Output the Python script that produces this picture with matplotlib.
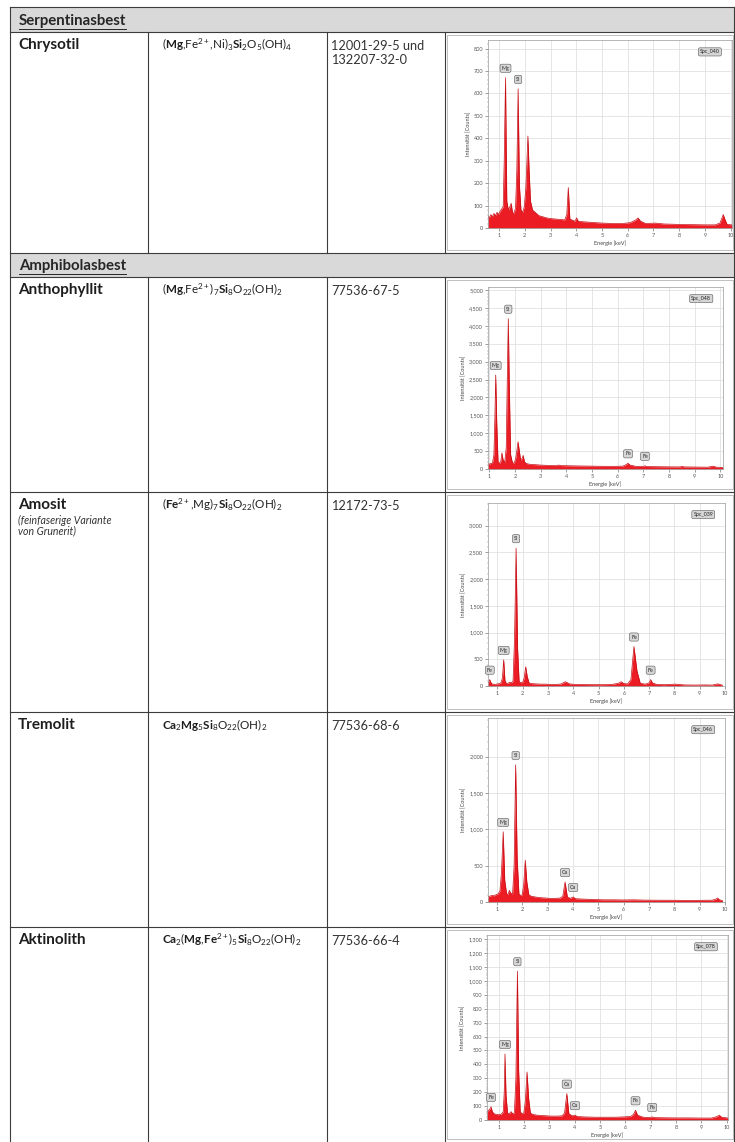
import numpy as np
import matplotlib.pyplot as plt
from matplotlib.patches import Rectangle
from matplotlib.ticker import MultipleLocator

plt.rcParams['font.family'] = ['Lato', 'DejaVu Sans']
plt.rcParams['mathtext.fontset'] = 'custom'
plt.rcParams['mathtext.rm'] = 'Lato'
plt.rcParams['mathtext.bf'] = 'Lato:bold'
plt.rcParams['mathtext.it'] = 'Lato:italic'
plt.rcParams['mathtext.default'] = 'regular'

W, H = 735, 1142

# ---- table content
groups = ['Serpentinasbest', 'Amphibolasbest']
minerals = ['Chrysotil', 'Anthophyllit', 'Amosit', 'Tremolit', 'Aktinolith']
formulas = [r'$(\mathbf{Mg}{,}Fe^{2+}{,}Ni)_3\mathbf{Si}_2O_5(OH)_4$',
            r'$(\mathbf{Mg}{,}Fe^{2+})_7\mathbf{Si}_8O_{22}(OH)_2$',
            r'$(\mathbf{Fe}^{2+}{,}Mg)_7\mathbf{Si}_8O_{22}(OH)_2$',
            r'$\mathbf{Ca}_2\mathbf{Mg}_5\mathbf{Si}_8O_{22}(OH)_2$',
            r'$\mathbf{Ca}_2(\mathbf{Mg}{,}\mathbf{Fe}^{2+})_5\mathbf{Si}_8O_{22}(OH)_2$']
cas_numbers = ['12001-29-5 und\n132207-32-0', '77536-67-5', '12172-73-5',
               '77536-68-6', '77536-66-4']
notes = ['', '', '(feinfaserige Variante\nvon Grunerit)', '', '']
spectrum_names = ['Spc_040', 'Spc_048', 'Spc_039', 'Spc_046', 'Spc_078']

# ---- EDX spectra (energy keV, counts)
chry_kev = [0.57, 0.62, 0.68, 0.74, 0.80, 0.86, 0.92, 0.98, 1.04, 1.10, 1.16, 1.20, 1.25, 1.30, 1.36,
            1.42, 1.47, 1.52, 1.58, 1.64, 1.69, 1.74, 1.79, 1.85, 1.92, 1.98, 2.04, 2.08, 2.12, 2.17,
            2.22, 2.30, 2.40, 2.55, 2.70, 2.85, 3.00, 3.20, 3.40, 3.55, 3.63, 3.69, 3.75, 3.85, 3.95,
            4.01, 4.08, 4.25, 4.60, 5.00, 5.40, 5.80, 6.10, 6.30, 6.40, 6.50, 6.70, 7.06, 7.40, 8.00,
            8.50, 9.00, 9.40, 9.58, 9.66, 9.71, 9.77, 9.86, 10.05]
chry_counts = [55, 45, 60, 50, 65, 55, 70, 60, 75, 85, 95, 300, 670, 120, 80,
               95, 110, 70, 65, 90, 260, 620, 190, 80, 70, 95, 180, 290, 410, 250,
               120, 80, 70, 55, 50, 45, 42, 40, 38, 36, 60, 180, 40, 35, 30,
               45, 30, 28, 25, 22, 20, 20, 24, 35, 45, 30, 20, 22, 18, 16,
               15, 14, 14, 22, 45, 60, 40, 16, 14]

anth_kev = [0.95, 1.00, 1.06, 1.12, 1.18, 1.22, 1.25, 1.29, 1.34, 1.40, 1.45, 1.49, 1.54, 1.60, 1.66,
            1.70, 1.74, 1.78, 1.83, 1.90, 1.97, 2.03, 2.08, 2.12, 2.17, 2.22, 2.28, 2.32, 2.37, 2.45,
            2.60, 2.80, 3.00, 3.30, 3.60, 3.69, 3.80, 4.10, 4.50, 5.00, 5.50, 5.90, 6.20, 6.32, 6.40,
            6.48, 6.70, 7.00, 7.06, 7.12, 7.50, 8.00, 8.40, 8.50, 8.60, 9.00, 9.50, 9.71, 9.85, 10.10]
anth_counts = [150, 130, 160, 150, 400, 1500, 2625, 1300, 200, 160, 220, 450, 250, 180, 600,
               2500, 4200, 2300, 400, 180, 160, 300, 550, 760, 500, 250, 300, 380, 200, 150,
               130, 120, 110, 100, 95, 110, 95, 90, 85, 80, 75, 75, 80, 120, 160,
               110, 75, 70, 90, 70, 65, 60, 58, 70, 58, 55, 50, 80, 50, 45]

amos_kev = [0.63, 0.66, 0.70, 0.74, 0.78, 0.84, 0.90, 0.96, 1.02, 1.08, 1.14, 1.20, 1.25, 1.30, 1.36,
            1.42, 1.49, 1.55, 1.62, 1.68, 1.74, 1.80, 1.86, 1.93, 2.00, 2.06, 2.12, 2.18, 2.25, 2.35,
            2.50, 2.70, 2.90, 3.10, 3.30, 3.50, 3.69, 3.85, 4.05, 4.40, 4.80, 5.20, 5.55, 5.80, 5.90,
            6.00, 6.15, 6.28, 6.40, 6.52, 6.65, 6.85, 7.00, 7.06, 7.14, 7.30, 7.60, 8.05, 8.40, 8.80,
            9.20, 9.50, 9.71, 9.90]
amos_counts = [60, 80, 120, 70, 40, 35, 30, 35, 40, 45, 60, 150, 490, 100, 45,
               50, 70, 60, 90, 900, 2580, 700, 80, 60, 70, 150, 360, 180, 60, 45,
               40, 35, 35, 30, 30, 35, 80, 40, 30, 28, 25, 25, 30, 55, 80,
               45, 40, 120, 740, 280, 50, 35, 60, 120, 55, 30, 25, 35, 20, 18,
               20, 18, 40, 15]

trem_kev = [0.65, 0.72, 0.80, 0.88, 0.96, 1.04, 1.12, 1.18, 1.25, 1.31, 1.38, 1.44, 1.49, 1.55, 1.62,
            1.68, 1.74, 1.80, 1.87, 1.94, 2.00, 2.06, 2.12, 2.18, 2.26, 2.35, 2.50, 2.70, 2.90, 3.10,
            3.30, 3.50, 3.60, 3.69, 3.78, 3.90, 4.01, 4.10, 4.40, 4.80, 5.20, 5.60, 6.00, 6.40, 6.80,
            7.20, 7.60, 8.00, 8.40, 8.80, 9.20, 9.50, 9.64, 9.71, 9.78, 9.90]
trem_counts = [70, 80, 90, 85, 100, 110, 150, 400, 965, 300, 120, 100, 160, 120, 110,
               500, 1885, 600, 110, 90, 100, 250, 575, 280, 100, 80, 70, 60, 55, 50,
               50, 55, 80, 275, 70, 50, 70, 45, 40, 35, 30, 30, 28, 30, 26,
               25, 24, 24, 22, 22, 24, 25, 40, 55, 30, 20]

akti_kev = [0.54, 0.60, 0.66, 0.70, 0.75, 0.82, 0.90, 0.98, 1.06, 1.12, 1.18, 1.22, 1.25, 1.29, 1.35,
            1.42, 1.49, 1.55, 1.62, 1.68, 1.74, 1.79, 1.85, 1.92, 1.99, 2.05, 2.12, 2.18, 2.25, 2.35,
            2.50, 2.70, 2.90, 3.10, 3.30, 3.50, 3.60, 3.69, 3.77, 3.90, 4.01, 4.10, 4.40, 4.80, 5.20,
            5.60, 5.90, 6.20, 6.32, 6.40, 6.48, 6.70, 6.95, 7.06, 7.15, 7.50, 8.00, 8.50, 9.00, 9.40,
            9.62, 9.71, 9.80, 10.05]
akti_counts = [60, 70, 80, 95, 60, 45, 40, 38, 40, 45, 60, 200, 475, 180, 50,
               45, 60, 45, 50, 300, 1070, 350, 60, 45, 50, 130, 345, 160, 50, 40,
               35, 32, 30, 28, 28, 30, 50, 190, 45, 30, 35, 25, 22, 20, 20,
               20, 22, 25, 40, 70, 35, 20, 18, 22, 17, 16, 15, 15, 14, 14,
               25, 35, 20, 14]

# peak labels: (element, energy, counts)
chry_peaks = [('Mg', 1.25, 670), ('Si', 1.74, 620)]
anth_peaks = [('Mg', 1.25, 2625), ('Si', 1.74, 4200), ('Fe', 6.40, 160), ('Fe', 7.06, 90)]
amos_peaks = [('Fe', 0.70, 120), ('Mg', 1.25, 490), ('Si', 1.74, 2580), ('Fe', 6.40, 740),
              ('Fe', 7.06, 120)]
trem_peaks = [('Mg', 1.25, 965), ('Si', 1.74, 1885), ('Ca', 3.69, 275), ('Ca', 4.01, 70)]
akti_peaks = [('Fe', 0.70, 95), ('Mg', 1.25, 475), ('Si', 1.74, 1070), ('Ca', 3.69, 190),
              ('Ca', 4.01, 35), ('Fe', 6.40, 70), ('Fe', 7.06, 22)]

spectra = [(chry_kev, chry_counts, chry_peaks, (0.57, 10.05), 838, np.arange(0, 801, 100)),
           (anth_kev, anth_counts, anth_peaks, (0.95, 10.1), 5084, np.arange(0, 5001, 500)),
           (amos_kev, amos_counts, amos_peaks, (0.63, 9.9), 3425, np.arange(0, 3001, 500)),
           (trem_kev, trem_counts, trem_peaks, (0.65, 9.9), 2530, np.arange(0, 2001, 500)),
           (akti_kev, akti_counts, akti_peaks, (0.54, 10.05), 1330, np.arange(0, 1301, 100))]

# ---- layout (pixels)
row_tops = [32, 277, 492, 712, 927]
row_bots = [253, 492, 712, 927, 1142]
band_rows = [(7, 32), (253, 277)]
col_x = [148, 327, 445]
axes_px = [(488, 40, 732, 228), (488, 287, 723, 469), (488, 503, 725, 686),
           (488, 718, 725, 902), (487, 935, 728, 1120)]

fig = plt.figure(figsize=(W / 100, H / 100), dpi=100)
tab = fig.add_axes([0, 0, 1, 1])
tab.set_xlim(0, W)
tab.set_ylim(H, 0)
tab.axis('off')

line_c = '#3c3c3c'
txt_c = '#1e1e1e'

header_texts = []
for (t0, t1), g in zip(band_rows, groups):
    tab.add_patch(Rectangle((10, t0), 724, t1 - t0, fc='#d9d9d9', ec='none'))
    header_texts.append(tab.text(19, (t0 + t1) / 2 + 1, g, fontsize=10.8, fontweight='bold',
                                 color='#262626', va='center', ha='left'))

for y in [7, 32, 253, 277, 492, 712, 927]:
    tab.plot([10, 734], [y, y], color=line_c, lw=0.8)
tab.plot([10, 10], [7, H], color=line_c, lw=0.8)
tab.plot([734, 734], [7, H], color=line_c, lw=0.8)
for t0, t1 in zip(row_tops, row_bots):
    for x in col_x:
        tab.plot([x, x], [t0, t1], color=line_c, lw=0.8)

for i, t0 in enumerate(row_tops):
    tab.text(18, t0 + 13, minerals[i], fontsize=11, fontweight='bold', color=txt_c, va='center')
    tab.text(162, t0 + 13, formulas[i], fontsize=8.4, color=txt_c, va='center')
    for k, line in enumerate(cas_numbers[i].split('\n')):
        tab.text(331, t0 + 14 + 14 * k, line, fontsize=9.2, color='#333333', va='center')
    for k, line in enumerate(notes[i].split('\n')):
        if line:
            tab.text(18, t0 + 28 + 11 * k, line, fontsize=7.6, style='italic',
                     color='#333333', va='center')
    # picture frame
    tab.add_patch(Rectangle((447, t0 + 3), 286, row_bots[i] - t0 - 6, fc='white',
                            ec='#b4b4b4', lw=0.6))

box = dict(boxstyle='round,pad=0.3', fc='#d6d6d6', ec='#555555', lw=0.4)

for i, (kev, counts, peaks, xlim, ytop, yticks) in enumerate(spectra):
    l, t, r, b = axes_px[i]
    ax = fig.add_axes([l / W, 1 - b / H, (r - l) / W, (b - t) / H])
    ax.fill_between(kev, counts, 0, color='#ec1c24', lw=0)
    ax.plot(kev, counts, color='#c40d14', lw=0.5)
    ax.set_xlim(*xlim)
    ax.set_ylim(0, ytop)
    ax.set_xticks(range(1, 11))
    ax.set_yticks(yticks)
    ax.set_yticklabels([f'{v:,}' for v in yticks])
    ax.xaxis.set_minor_locator(MultipleLocator(0.2))
    ax.yaxis.set_minor_locator(MultipleLocator(yticks[1] / 5))
    ax.grid(True, color='#dcdcdc', lw=0.5)
    ax.set_axisbelow(True)
    ax.tick_params(labelsize=4.0, colors='#555555', length=2, width=0.4, pad=1.5)
    ax.tick_params(which='minor', length=1, width=0.3, colors='#777777')
    for s in ax.spines.values():
        s.set_color('#9a9a9a')
        s.set_linewidth(0.5)
    ax.set_xlabel('Energie [keV]', fontsize=4.0, color='#444444', labelpad=1.5)
    ax.set_ylabel('Intensität [Counts]', fontsize=4.0, color='#444444', labelpad=2)
    for el, e, c in peaks:
        ax.annotate(el, (e, c), xytext=(0, 5), textcoords='offset points', ha='center',
                    va='bottom', fontsize=3.8, color='#222222', bbox=box)
    ax.text(0.95, 0.95, spectrum_names[i], transform=ax.transAxes, ha='right', va='top',
            fontsize=3.8, color='#222222', bbox=box)

# underline the group headers
fig.canvas.draw()
for ht in header_texts:
    bb = ht.get_window_extent()
    tab.plot([bb.x0, bb.x1], [H - bb.y0 + 1, H - bb.y0 + 1], color='#262626', lw=0.7)

fig.savefig('out.png', dpi=100)
